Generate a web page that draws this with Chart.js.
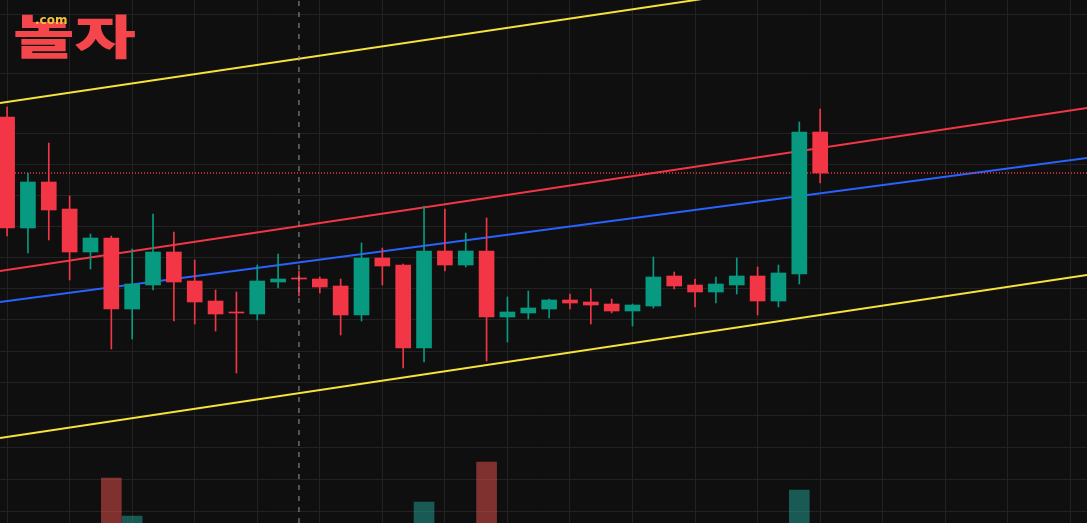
<!DOCTYPE html>
<html>
<head>
<meta charset="utf-8">
<script src="https://cdn.jsdelivr.net/npm/chart.js@4.4.1/dist/chart.umd.min.js"></script>
<style>
  html, body { margin: 0; padding: 0; background: #0f0f0f; }
  #wrap { position: relative; width: 1087px; height: 523px; }
  .logo-name {
    position: absolute; left: 13px; top: 4px;
    font-family: "Noto Sans CJK KR", sans-serif; font-weight: 900;
    font-size: 47px; line-height: 60px; color: #f5474b;
    transform: scaleX(1.42); transform-origin: left top;
  }
  .logo-dom {
    position: absolute; left: 35px; top: 13px;
    font-family: "DejaVu Sans", sans-serif; font-weight: bold;
    font-size: 12px; line-height: 14px; color: #f2c23c;
  }
</style>
</head>
<body>
<div id="wrap">
  <canvas id="chart"></canvas>
  <div class="logo-name">놀자</div>
  <div class="logo-dom">.com</div>
</div>
<script>
// 캔들 데이터 (시가 / 고가 / 저가 / 종가)
const opens  = [406, 295, 341, 314, 271, 285, 214, 238, 271, 242, 222, 210, 209, 241, 244, 244, 237, 208, 265, 258,
                175, 272, 258, 272, 206, 210, 214, 223, 221, 219, 212, 217, 247, 238, 231, 238, 247, 222, 249, 391];
const highs  = [416, 350, 380, 327, 289, 287, 274, 309, 291, 263, 233, 231, 258, 269, 252, 246, 244, 280, 275, 259,
                317, 314, 290, 305, 226, 232, 224, 229, 234, 224, 219, 266, 251, 244, 246, 265, 256, 258, 401, 414];
const lows   = [287, 270, 283, 243, 254, 174, 184, 233, 202, 199, 192, 150, 203, 235, 227, 230, 188, 202, 238, 155,
                161, 252, 256, 162, 181, 204, 205, 214, 199, 210, 197, 215, 234, 216, 220, 229, 208, 216, 239, 340];
const closes = [295, 341, 313, 271, 285, 214, 239, 271, 241, 221, 209, 210, 242, 244, 244, 236, 208, 265, 257, 175,
                272, 258, 272, 206, 211, 215, 223, 220, 218, 212, 218, 246, 237, 231, 239, 247, 222, 250, 391, 350];
// 거래량 (천주)
const volumes = [52, 38, 41, 45, 30, 122, 84, 35, 33, 28, 26, 40, 31, 22, 20, 18, 36, 44, 29, 71,
                 98, 47, 25, 138, 24, 19, 17, 14, 16, 15, 13, 39, 21, 18, 17, 27, 43, 35, 110, 62];

// 가격 눈금 (그리드)
const priceTicks = [508, 449, 389, 359, 328, 297, 266, 235, 204, 172, 140, 108, 76, 44, 12];

// 회귀 채널 (시작 / 끝)
const channelX  = [-0.34, 51.8];
const upperBand = [420, 581];
const upperLine = [252, 415];
const midLine   = [221, 365];
const lowerBand = [85, 248];

const crosshairIndex = 14;

const UP = "#089981";
const DOWN = "#f23645";

const idx = opens.map((_, i) => i);
const isUp = (i) => closes[i] > opens[i];
const candleColors = idx.map((i) => (isUp(i) ? UP : DOWN));
const volColors = idx.map((i) => (isUp(i) ? "rgba(38,166,154,0.5)" : "rgba(239,83,80,0.5)"));

const lastPrice = closes[closes.length - 1];

function channel(vals, color) {
  return {
    type: "line",
    data: [{ x: channelX[0], y: vals[0] }, { x: channelX[1], y: vals[1] }],
    borderColor: color,
    borderWidth: 2,
    pointRadius: 0,
    order: 3,
  };
}

const config = {
  type: "bar",
  data: {
    datasets: [
      {
        type: "line",
        data: [{ x: crosshairIndex, y: 0 }, { x: crosshairIndex, y: 523 }],
        borderColor: "#9a9a9a",
        borderWidth: 1,
        borderDash: [5, 6],
        pointRadius: 0,
        order: 0,
      },
      {
        data: idx.map((i) => ({ x: i, y: [opens[i], closes[i]] })),
        backgroundColor: candleColors,
        barThickness: 15,
        minBarLength: 1,
        grouped: false,
        order: 1,
      },
      {
        data: idx.map((i) => ({ x: i, y: [lows[i], highs[i]] })),
        backgroundColor: candleColors,
        barThickness: 1,
        grouped: false,
        order: 2,
      },
      {
        type: "line",
        data: [{ x: channelX[0], y: lastPrice }, { x: channelX[1], y: lastPrice }],
        borderColor: DOWN,
        borderWidth: 1.5,
        borderDash: [1, 2],
        pointRadius: 0,
        order: 3,
      },
      channel(upperBand, "#f7e13b"),
      channel(upperLine, "#f23645"),
      channel(midLine, "#2962ff"),
      channel(lowerBand, "#f7e13b"),
      {
        data: idx.map((i) => ({ x: i, y: volumes[i] })),
        backgroundColor: volColors,
        barThickness: 20,
        grouped: false,
        yAxisID: "yv",
        order: 4,
      },
    ],
  },
  options: {
    responsive: true,
    maintainAspectRatio: false,
    animation: false,
    layout: { padding: 0 },
    plugins: { legend: { display: false }, tooltip: { enabled: false } },
    scales: {
      x: {
        type: "linear",
        offset: false,
        min: channelX[0],
        max: channelX[1],
        grid: { color: "#222222", drawTicks: false, offset: false },
        border: { display: false },
        ticks: { display: false, stepSize: 3, includeBounds: false },
      },
      y: {
        min: 0,
        max: 523,
        grid: { color: "#222222", drawTicks: false },
        border: { display: false },
        ticks: { display: false },
        afterBuildTicks: (axis) => {
          axis.ticks = priceTicks.map((v) => ({ value: v }));
        },
      },
      yv: {
        display: false,
        min: 77,
        max: 600,
      },
    },
  },
};

const ctx = document.getElementById("chart").getContext("2d");
new Chart(ctx, config);
</script>
</body>
</html>
